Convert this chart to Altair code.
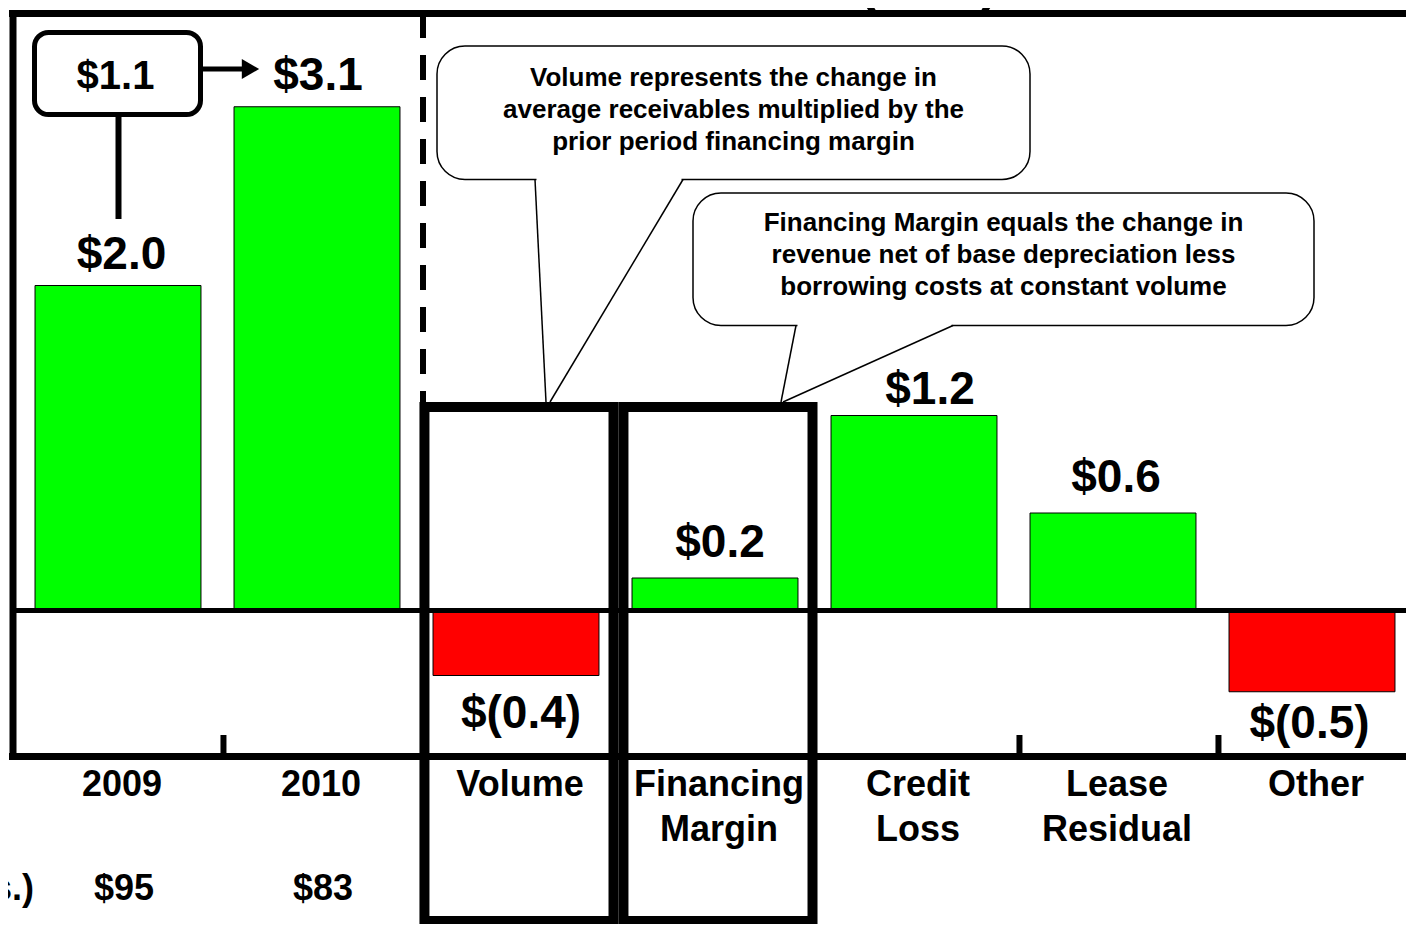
import altair as alt
import pandas as pd

# ---------------- data ----------------
categories = ["2009", "2010", "Volume", "Financing\nMargin", "Credit\nLoss", "Lease\nResidual", "Other"]
values = [2.0, 3.1, -0.4, 0.2, 1.2, 0.6, -0.5]
value_labels = ["$2.0", "$3.1", "$(0.4)", "$0.2", "$1.2", "$0.6", "$(0.5)"]
receivable_years = ["2009", "2010"]
receivables = ["$95", "$83"]
receivables_caption = "Average Receivables ($Bs.)"
boxed_categories = ["Volume", "Financing\nMargin"]
volume_note = ["Volume represents the change in",
               "average receivables multiplied by the",
               "prior period financing margin"]
margin_note = ["Financing Margin equals the change in",
               "revenue net of base depreciation less",
               "borrowing costs at constant volume"]
chart_title = "Pre-Tax Results ($Bs)"

# ---------------- layout ----------------
FONT = "Liberation Sans"
W, H = 1398, 916          # plot area = page minus the 8px margins
STEP = 199.0              # px per category
C0 = 118.0                # page x of first category centre
ZERO = 610.5              # page y of zero line
PXU = 162.5               # px per $1B
BAR_HALF = 0.417


def P(v):
    """page pixel -> plot pixel"""
    return v - 8.0


xs = alt.Scale(domain=[(8 - C0) / STEP, (8 + W - C0) / STEP], nice=False, zero=False)
ys = alt.Scale(domain=[(ZERO - 8 - H) / PXU, (ZERO - 8) / PXU], nice=False, zero=False)

# label nudges (px): horizontal shift, gap between bar end and label baseline
label_dx = [3.5, 1, 5, 5, 16, 3, -2.5]
label_gap = [17, 17, 52, 21, 12, 21, 46]

n = len(categories)
df = pd.DataFrame({"cat": categories, "i": list(range(n)), "value": values, "label": value_labels})
df["x0"] = df["i"] - BAR_HALF
df["x1"] = df["i"] + BAR_HALF
df["zero"] = 0.0
df["fill"] = ["#00FF00" if v >= 0 else "#FF0000" for v in values]
df["lx"] = df["i"] + pd.Series(label_dx) / STEP
df["ly"] = [v + g / PXU if v >= 0 else v - g / PXU for v, g in zip(values, label_gap)]
df["cx"] = df["i"] + 0.02

one = pd.DataFrame({"k": [0]})
RIGHT = 8 + W   # page x of the right edge of the drawing


def seg(x1, y1, x2, y2, w, color="black", dash=None):
    kw = dict(color=color, strokeWidth=w, strokeCap="butt")
    if dash:
        kw["strokeDash"] = dash
    return alt.Chart(one).mark_rule(**kw).encode(
        x=alt.value(P(x1)), y=alt.value(P(y1)), x2=alt.value(P(x2)), y2=alt.value(P(y2)))


def label(text, x, y, size, align="center", line_height=None):
    kw = dict(text=text, font=FONT, fontSize=size, fontWeight="bold",
              baseline="alphabetic", align=align, color="black")
    if line_height:
        kw["lineHeight"] = line_height
    return alt.Chart(one).mark_text(**kw).encode(x=alt.value(P(x)), y=alt.value(P(y)))


layers = []

# bars
layers.append(alt.Chart(df).mark_rect(stroke="black", strokeWidth=1).encode(
    x=alt.X("x0:Q", scale=xs, axis=None), x2="x1:Q",
    y=alt.Y("value:Q", scale=ys, axis=None), y2="zero:Q",
    fill=alt.Fill("fill:N", scale=None)))

# zero line
zero_df = pd.DataFrame({"z": [0.0]})
layers.append(alt.Chart(zero_df).mark_rule(color="black", strokeWidth=5).encode(
    x=alt.value(P(13)), x2=alt.value(P(RIGHT)), y=alt.Y("z:Q", scale=ys)))

# frame: top, left, bottom axis
layers.append(seg(9, 13.5, RIGHT, 13.5, 7))
layers.append(seg(13, 10, 13, 760, 7))
layers.append(seg(9, 756.5, RIGHT, 756.5, 7))

# ticks between categories (inward)
tick_pos = [k + 0.53 for k in range(n - 1)
            if categories[k] not in boxed_categories and categories[k + 1] not in boxed_categories]
layers.append(alt.Chart(pd.DataFrame({"t": tick_pos})).mark_rule(color="black", strokeWidth=6).encode(
    x=alt.X("t:Q", scale=xs), y=alt.value(P(735)), y2=alt.value(P(756))))

# dashed divider
layers.append(seg(423, 13, 423, 402, 6, dash=[25, 17]))

# highlight boxes around Volume and Financing Margin
box_df = pd.DataFrame({"cat": boxed_categories})
box_df["bx0"] = [categories.index(c) - 0.46 for c in boxed_categories]
box_df["bx1"] = [categories.index(c) + 0.49 for c in boxed_categories]
layers.append(alt.Chart(box_df).mark_rect(filled=False, stroke="black", strokeWidth=10, clip=True).encode(
    x=alt.X("bx0:Q", scale=xs), x2="bx1:Q", y=alt.value(P(407)), y2=alt.value(P(921))))


def callout(x0, y0, x1, y1, ta, tb, tip_a, tip_b, lines, tx, ty):
    out = [alt.Chart(one).mark_rect(fill="white", stroke="black", strokeWidth=1.5, cornerRadius=28).encode(
        x=alt.value(P(x0)), x2=alt.value(P(x1)), y=alt.value(P(y0)), y2=alt.value(P(y1)))]
    out.append(seg(ta + 1.5, y1, tb - 1.5, y1, 4, color="white"))
    out.append(seg(ta, y1, tip_a[0], tip_a[1], 1.5))
    out.append(seg(tb, y1, tip_b[0], tip_b[1], 1.5))
    out.append(label(lines, tx, ty, 26, line_height=32))
    return out


layers += callout(437, 46, 1030, 179.5, 535, 683, (546, 402), (550, 402), volume_note, 733.5, 85.5)
layers += callout(693, 193, 1314, 325.5, 796, 953, (781, 402), (783, 402), margin_note, 1003.5, 231)

# year-over-year change box
layers.append(alt.Chart(one).mark_rect(fill="white", stroke="black", strokeWidth=5, cornerRadius=14).encode(
    x=alt.value(P(34.5)), x2=alt.value(P(200.5)), y=alt.value(P(32.5)), y2=alt.value(P(114.5))))
layers.append(label(f"${values[1] - values[0]:.1f}", 115.5, 89, 40))
layers.append(seg(118.5, 117, 118.5, 219, 6))
layers.append(seg(203, 69, 247, 69, 5))
layers.append(alt.Chart(one).mark_point(shape="triangle-right", filled=True, color="black", size=400, opacity=1).encode(
    x=alt.value(P(250.5)), y=alt.value(P(69))))

# value labels
layers.append(alt.Chart(df).mark_text(font=FONT, fontSize=46, fontWeight="bold", baseline="alphabetic",
                                      color="black").encode(
    x=alt.X("lx:Q", scale=xs), y=alt.Y("ly:Q", scale=ys), text="label:N"))

# category labels
layers.append(alt.Chart(df).mark_text(font=FONT, fontSize=36, fontWeight="bold", baseline="alphabetic",
                                      lineBreak="\n", lineHeight=45, color="black").encode(
    x=alt.X("cx:Q", scale=xs), y=alt.value(P(796)), text="cat:N"))

# receivables row
rec_df = pd.DataFrame({"cat": receivable_years, "amt": receivables})
rec_df["cx"] = [categories.index(c) + 0.03 for c in receivable_years]
layers.append(alt.Chart(rec_df).mark_text(font=FONT, fontSize=36, fontWeight="bold", baseline="alphabetic",
                                          color="black").encode(
    x=alt.X("cx:Q", scale=xs), y=alt.value(P(900)), text="amt:N"))
layers.append(label(receivables_caption, 34, 900, 36, align="right"))

# title (sits above the visible page, as in the reference)
layers.append(label(chart_title, 715, 2, 55))

chart = alt.layer(*layers).properties(
    width=W, height=H, padding=0,
    autosize=alt.AutoSizeParams(type="none"),
    background="white",
).configure_view(stroke=None)

chart.save("out.html", embed_options={"renderer": "svg", "actions": False})
